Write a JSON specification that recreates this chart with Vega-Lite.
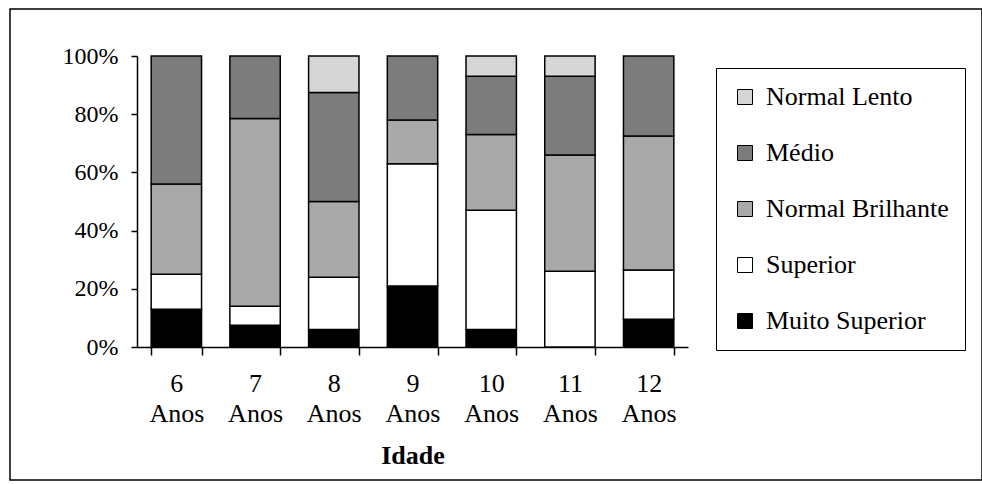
{
  "$schema": "https://vega.github.io/schema/vega-lite/v6.json",
  "autosize": "none",
  "width": 972,
  "height": 471,
  "padding": {"left": 10, "top": 9, "right": 0, "bottom": 4},
  "background": "white",
  "config": {
    "view": {"stroke": "black", "strokeWidth": 1.5},
    "font": "'Liberation Serif', 'Times New Roman', serif"
  },
  "data": {
    "values": [
      {"idade": "6 Anos", "nivel": "Muito Superior", "ordem": 1, "pct": 13},
      {"idade": "6 Anos", "nivel": "Superior", "ordem": 2, "pct": 12},
      {"idade": "6 Anos", "nivel": "Normal Brilhante", "ordem": 3, "pct": 31},
      {"idade": "6 Anos", "nivel": "Médio", "ordem": 4, "pct": 44},
      {"idade": "7 Anos", "nivel": "Muito Superior", "ordem": 1, "pct": 7.5},
      {"idade": "7 Anos", "nivel": "Superior", "ordem": 2, "pct": 6.5},
      {"idade": "7 Anos", "nivel": "Normal Brilhante", "ordem": 3, "pct": 64.5},
      {"idade": "7 Anos", "nivel": "Médio", "ordem": 4, "pct": 21.5},
      {"idade": "8 Anos", "nivel": "Muito Superior", "ordem": 1, "pct": 6},
      {"idade": "8 Anos", "nivel": "Superior", "ordem": 2, "pct": 18},
      {"idade": "8 Anos", "nivel": "Normal Brilhante", "ordem": 3, "pct": 26},
      {"idade": "8 Anos", "nivel": "Médio", "ordem": 4, "pct": 37.5},
      {"idade": "8 Anos", "nivel": "Normal Lento", "ordem": 5, "pct": 12.5},
      {"idade": "9 Anos", "nivel": "Muito Superior", "ordem": 1, "pct": 21},
      {"idade": "9 Anos", "nivel": "Superior", "ordem": 2, "pct": 42},
      {"idade": "9 Anos", "nivel": "Normal Brilhante", "ordem": 3, "pct": 15},
      {"idade": "9 Anos", "nivel": "Médio", "ordem": 4, "pct": 22},
      {"idade": "10 Anos", "nivel": "Muito Superior", "ordem": 1, "pct": 6},
      {"idade": "10 Anos", "nivel": "Superior", "ordem": 2, "pct": 41},
      {"idade": "10 Anos", "nivel": "Normal Brilhante", "ordem": 3, "pct": 26},
      {"idade": "10 Anos", "nivel": "Médio", "ordem": 4, "pct": 20},
      {"idade": "10 Anos", "nivel": "Normal Lento", "ordem": 5, "pct": 7},
      {"idade": "11 Anos", "nivel": "Superior", "ordem": 2, "pct": 26},
      {"idade": "11 Anos", "nivel": "Normal Brilhante", "ordem": 3, "pct": 40},
      {"idade": "11 Anos", "nivel": "Médio", "ordem": 4, "pct": 27},
      {"idade": "11 Anos", "nivel": "Normal Lento", "ordem": 5, "pct": 7},
      {"idade": "12 Anos", "nivel": "Muito Superior", "ordem": 1, "pct": 9.5},
      {"idade": "12 Anos", "nivel": "Superior", "ordem": 2, "pct": 17},
      {"idade": "12 Anos", "nivel": "Normal Brilhante", "ordem": 3, "pct": 46},
      {"idade": "12 Anos", "nivel": "Médio", "ordem": 4, "pct": 27.5}
    ]
  },
  "mark": {"type": "bar", "stroke": "black", "strokeWidth": 1.5},
  "encoding": {
    "x": {
      "field": "idade",
      "type": "nominal",
      "sort": ["6 Anos", "7 Anos", "8 Anos", "9 Anos", "10 Anos", "11 Anos", "12 Anos"],
      "scale": {"range": [127, 678], "paddingInner": 0.36, "paddingOuter": 0.18},
      "axis": {
        "title": "Idade",
        "orient": "bottom",
        "offset": -133,
        "labelAngle": 0,
        "labelExpr": "split(datum.label, ' ')",
        "labelFont": "'Liberation Serif', 'Times New Roman', serif",
        "labelFontSize": 26,
        "labelColor": "black",
        "labelLineHeight": 30,
        "labelPadding": 15,
        "labelBaseline": "top",
        "tickBand": "extent",
        "tickSize": 8,
        "tickColor": "black",
        "tickWidth": 1.5,
        "domainColor": "black",
        "domainWidth": 1.5,
        "titleFont": "'Liberation Serif', 'Times New Roman', serif",
        "titleFontSize": 26,
        "titleFontWeight": "bold",
        "titleColor": "black",
        "titleY": 108,
        "titleBaseline": "middle"
      }
    },
    "y": {
      "field": "pct",
      "type": "quantitative",
      "stack": "normalize",
      "scale": {"domain": [0, 1], "range": [338, 47], "nice": false},
      "axis": {
        "title": null,
        "orient": "left",
        "offset": -127,
        "values": [0, 0.2, 0.4, 0.6, 0.8, 1],
        "format": ".0%",
        "grid": false,
        "labelFont": "'Liberation Serif', 'Times New Roman', serif",
        "labelFontSize": 24,
        "labelColor": "black",
        "labelPadding": 13,
        "tickSize": 6,
        "tickColor": "black",
        "tickWidth": 1.5,
        "domainColor": "black",
        "domainWidth": 1.5
      }
    },
    "color": {
      "field": "nivel",
      "type": "nominal",
      "scale": {
        "domain": ["Normal Lento", "Médio", "Normal Brilhante", "Superior", "Muito Superior"],
        "range": ["#d6d6d6", "#7c7c7c", "#a9a9a9", "#ffffff", "#000000"]
      },
      "legend": {
        "title": null,
        "orient": "none",
        "legendX": 706,
        "legendY": 59,
        "padding": 16,
        "strokeColor": "black",
        "symbolType": "square",
        "symbolSize": 225,
        "symbolStrokeColor": "black",
        "symbolStrokeWidth": 1,
        "symbolOpacity": 1,
        "labelFont": "'Liberation Serif', 'Times New Roman', serif",
        "labelFontSize": 26,
        "labelColor": "black",
        "labelOffset": 8,
        "rowPadding": 30,
        "labelLimit": 400
      }
    },
    "order": {"field": "ordem", "type": "quantitative"}
  }
}
